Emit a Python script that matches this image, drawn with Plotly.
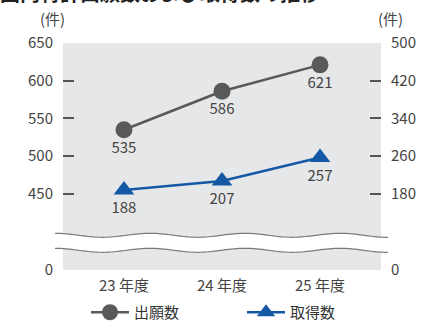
import numpy as np
import plotly.graph_objects as go

# Fiscal years and yearly counts
years = ["23 年度", "24 年度", "25 年度"]
applications = [535, 586, 621]   # 出願数 (left axis)
granted = [188, 207, 257]        # 取得数 (right axis)

left_ticks = [450, 500, 550, 600, 650]
right_ticks = [180, 260, 340, 420, 500]

# Broken axes: the lower end of each axis is shown as "0"
left_bottom = 349
right_bottom = 18

W, H = 424, 324
ML, MR, MT, MB = 63, 43, 43, 54
PW, PH = W - ML - MR, H - MT - MB

FONT = "Noto Sans CJK JP, Noto Sans, sans-serif"
TXT = "#444444"
GRAY = "#58595b"
BLUE = "#1559a6"

fig = go.Figure()

fig.add_trace(go.Scatter(
    x=years, y=applications, name="出願数", mode="lines+markers+text",
    line=dict(color=GRAY, width=2.5),
    marker=dict(symbol="circle", size=17, color=GRAY),
    text=[str(v) for v in applications], textposition="bottom center",
    textfont=dict(size=15, color=TXT, family=FONT),
    yaxis="y", cliponaxis=False, legend="legend",
))
fig.add_trace(go.Scatter(
    x=years, y=granted, name="取得数", mode="lines+markers+text",
    line=dict(color=BLUE, width=2.5),
    marker=dict(symbol="triangle-up", size=18, color=BLUE),
    text=[str(v) for v in granted], textposition="bottom center",
    textfont=dict(size=15, color=TXT, family=FONT),
    yaxis="y2", cliponaxis=False, legend="legend2",
))


def px_to_paper(px, py):
    return (px - ML) / PW, (H - MB - py) / PH


# Wavy break band across the lower part of the plot
xs = np.linspace(55, 388, 120)
upper = 235.3 - 2.0 * np.cos(2 * np.pi * (xs - 55) / 95)
lower = 250.3 - 2.0 * np.cos(2 * np.pi * (xs - 55) / 95)


def path_from(points, close=False):
    parts = []
    for i, (a, b) in enumerate(points):
        u, v = px_to_paper(a, b)
        parts.append(("M" if i == 0 else "L") + f"{u:.5f},{v:.5f}")
    return " ".join(parts) + (" Z" if close else "")


band = list(zip(xs, upper)) + list(zip(xs[::-1], lower[::-1]))
shapes = [
    dict(type="path", xref="paper", yref="paper", path=path_from(band, True),
         fillcolor="white", line=dict(width=0), layer="above"),
    dict(type="path", xref="paper", yref="paper", path=path_from(zip(xs, upper)),
         line=dict(color="#7a7a7a", width=1.2), layer="above"),
    dict(type="path", xref="paper", yref="paper", path=path_from(zip(xs, lower)),
         line=dict(color="#7a7a7a", width=1.2), layer="above"),
]

axis_common = dict(
    showgrid=False, zeroline=False, showline=False,
    ticks="inside", ticklen=11, tickwidth=1.5, tickcolor="#555555",
    tickfont=dict(size=15, color=TXT, family=FONT),
    ticklabelstandoff=9,
)


def legend_at(px):
    return dict(
        orientation="h", xref="container", yref="container",
        x=px / W, y=1 - 296 / H, xanchor="left", yanchor="top",
        itemwidth=38,
        font=dict(size=15, color="#333333", family=FONT),
        bgcolor="rgba(0,0,0,0)",
    )


fig.update_layout(
    width=W, height=H,
    margin=dict(l=ML, r=MR, t=MT, b=MB, autoexpand=False),
    paper_bgcolor="white",
    plot_bgcolor="#e6e7e8",
    font=dict(family=FONT, color=TXT),
    showlegend=True,
    legend=legend_at(86),
    legend2=legend_at(242),
    xaxis=dict(
        range=[-0.622, 2.622], showgrid=False, zeroline=False, showline=False,
        ticks="", tickfont=dict(size=15, color=TXT, family=FONT),
        ticklabelstandoff=5,
    ),
    yaxis=dict(
        range=[left_bottom, 650],
        tickvals=[left_bottom] + left_ticks,
        ticktext=["0"] + [str(v) for v in left_ticks],
        **axis_common,
    ),
    yaxis2=dict(
        range=[right_bottom, 500], overlaying="y", side="right",
        tickvals=[right_bottom] + right_ticks,
        ticktext=["0"] + [str(v) for v in right_ticks],
        **axis_common,
    ),
    shapes=shapes,
    annotations=[
        dict(text="(件)", xref="paper", yref="paper", x=px_to_paper(38, 0)[0],
             y=px_to_paper(0, 18)[1], yanchor="middle", showarrow=False,
             font=dict(size=15, color=TXT, family=FONT)),
        dict(text="(件)", xref="paper", yref="paper", x=px_to_paper(405, 0)[0],
             y=px_to_paper(0, 18)[1], yanchor="middle", showarrow=False,
             font=dict(size=15, color=TXT, family=FONT)),
        dict(text="<b>国内特許出願数および取得数の推移</b>", xref="paper", yref="paper",
             x=px_to_paper(-2, 0)[0], y=px_to_paper(0, 9)[1],
             xanchor="left", yanchor="bottom", showarrow=False,
             font=dict(size=20, color="#222222", family=FONT)),
    ],
)

fig.write_html("out.html")
